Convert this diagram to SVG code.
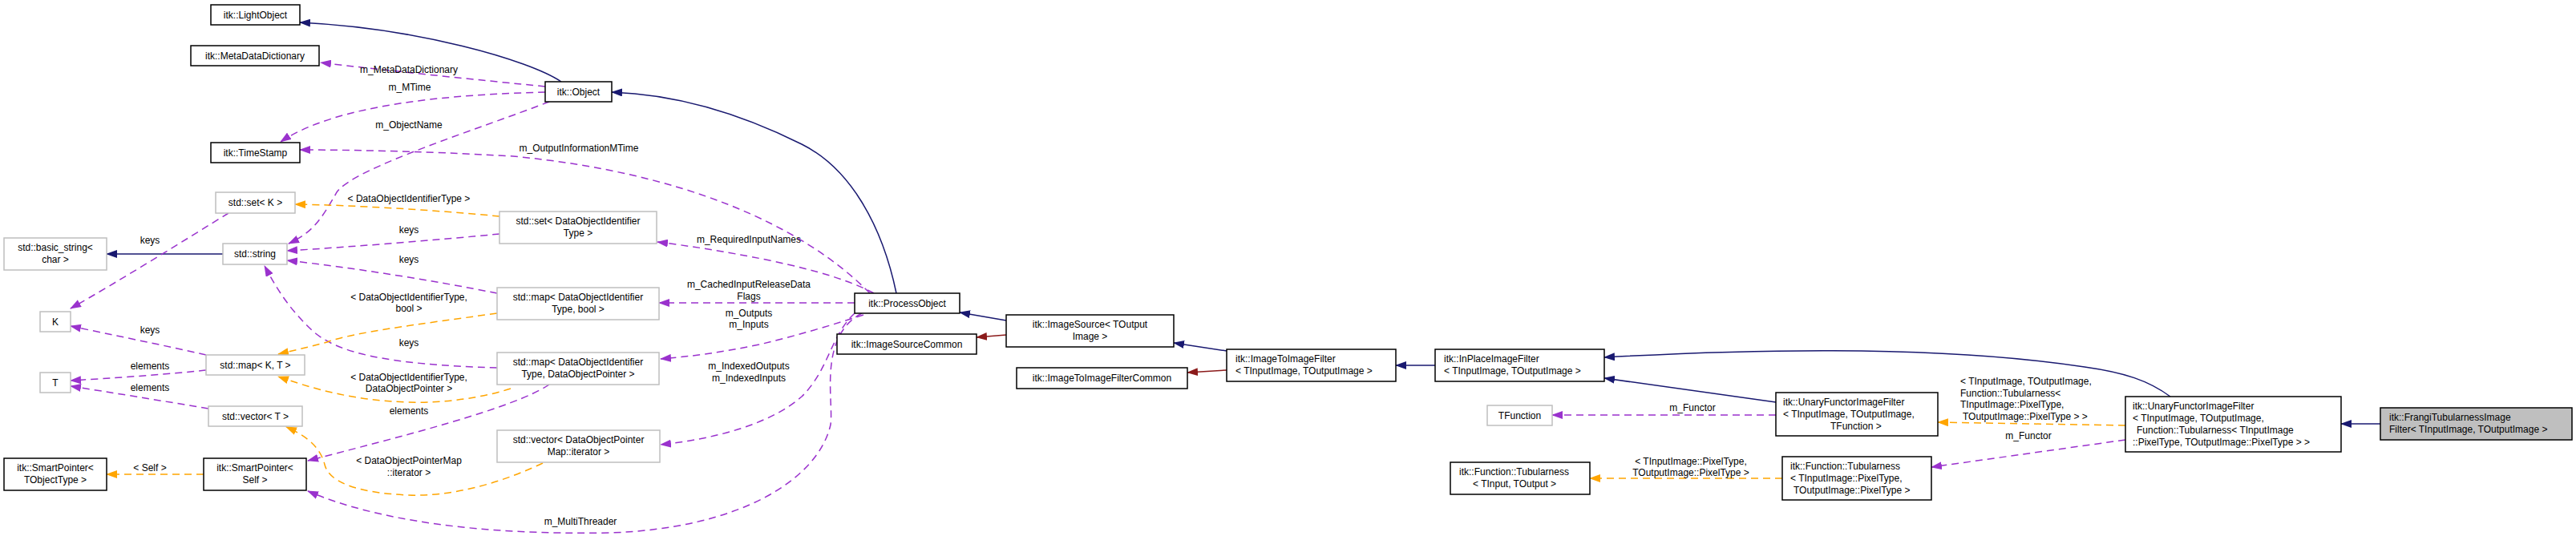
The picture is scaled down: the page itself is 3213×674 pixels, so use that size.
<svg xmlns="http://www.w3.org/2000/svg" width="3213" height="674" viewBox="0 0 3213 674">
<style>
text{font-family:"Liberation Sans",Arial,sans-serif;font-size:12px;fill:#000}
.c{text-anchor:middle}
.b{fill:#fff;stroke:#000;stroke-width:1.5}
.g{fill:#fff;stroke:#bfbfbf;stroke-width:1.5}
.f{fill:#bfbfbf;stroke:#000;stroke-width:1.5}
.inh{fill:none;stroke:#191970;stroke-width:1.5}
.red{fill:none;stroke:#8b1a1a;stroke-width:1.5}
.use{fill:none;stroke:#9a32cd;stroke-width:1.5;stroke-dasharray:9,6}
.tpl{fill:none;stroke:#ffa500;stroke-width:1.5;stroke-dasharray:9,6}
</style>
<defs>
<marker id="aN" markerWidth="14" markerHeight="10" refX="13" refY="5" orient="auto" markerUnits="userSpaceOnUse"><path d="M0,0L14,5L0,10z" fill="#191970"/></marker>
<marker id="aR" markerWidth="14" markerHeight="10" refX="13" refY="5" orient="auto" markerUnits="userSpaceOnUse"><path d="M0,0L14,5L0,10z" fill="#8b1a1a"/></marker>
<marker id="aP" markerWidth="14" markerHeight="10" refX="13" refY="5" orient="auto" markerUnits="userSpaceOnUse"><path d="M0,0L14,5L0,10z" fill="#9a32cd"/></marker>
<marker id="aO" markerWidth="14" markerHeight="10" refX="13" refY="5" orient="auto" markerUnits="userSpaceOnUse"><path d="M0,0L14,5L0,10z" fill="#ffa500"/></marker>
</defs>
<g id="edges">
<path class="inh" marker-end="url(#aN)" d="M700,102 C660,75 520,35 374,28"/>
<path class="use" marker-end="url(#aP)" d="M680,108 C600,100 480,88 400,78"/>
<text class="c" x="510" y="91">m_MetaDataDictionary</text>
<path class="use" marker-end="url(#aP)" d="M680,115 C560,118 420,130 350,177"/>
<text class="c" x="511" y="113">m_MTime</text>
<path class="use" marker-end="url(#aP)" d="M1085,366 C1000,280 850,215 640,195 C520,188 420,187 374,187"/>
<text class="c" x="722" y="189">m_OutputInformationMTime</text>
<path class="use" marker-end="url(#aP)" d="M685,127 C600,160 440,210 420,240 C400,275 390,290 360,304"/>
<text class="c" x="510" y="160">m_ObjectName</text>
<path class="tpl" marker-end="url(#aO)" d="M623,270 C540,262 440,256 368,255"/>
<text class="c" x="510" y="252">&lt; DataObjectIdentifierType &gt;</text>
<path class="use" marker-end="url(#aP)" d="M623,292 C540,300 440,308 358,313"/>
<text class="c" x="510" y="291">keys</text>
<path class="use" marker-end="url(#aP)" d="M620,366 C540,350 440,334 358,325"/>
<text class="c" x="510" y="328">keys</text>
<path class="use" marker-end="url(#aP)" d="M620,459 C480,455 420,440 390,413 C360,385 345,360 330,332"/>
<text class="c" x="510" y="432">keys</text>
<path class="inh" marker-end="url(#aN)" d="M278,317 L133,317"/>
<path class="use" marker-end="url(#aP)" d="M285,266 C230,300 150,350 88,385"/>
<text class="c" x="187" y="304">keys</text>
<path class="use" marker-end="url(#aP)" d="M257,443 C200,430 140,418 88,407"/>
<text class="c" x="187" y="416">keys</text>
<path class="use" marker-end="url(#aP)" d="M257,462 C200,468 140,472 88,475"/>
<text class="c" x="187" y="461">elements</text>
<path class="use" marker-end="url(#aP)" d="M260,510 C200,500 140,490 88,482"/>
<text class="c" x="187" y="488">elements</text>
<path class="tpl" marker-end="url(#aO)" d="M620,391 C520,405 440,415 408,427 C385,433 365,438 347,442"/>
<text class="c" x="510" y="375">&lt; DataObjectIdentifierType,</text>
<text class="c" x="510" y="389">bool &gt;</text>
<path class="tpl" marker-end="url(#aO)" d="M637,485 C590,500 540,503 510,502 C440,500 390,485 347,470"/>
<text class="c" x="510" y="475">&lt; DataObjectIdentifierType,</text>
<text class="c" x="510" y="489">DataObjectPointer &gt;</text>
<path class="use" marker-end="url(#aP)" d="M685,480 C640,510 500,545 384,575"/>
<text class="c" x="510" y="517">elements</text>
<path class="tpl" marker-end="url(#aO)" d="M677,578 C620,605 560,620 510,618 C440,615 410,600 405,580 C400,560 385,545 357,533"/>
<text class="c" x="510" y="579">&lt; DataObjectPointerMap</text>
<text class="c" x="510" y="594">::iterator &gt;</text>
<path class="tpl" marker-end="url(#aO)" d="M254,592 L133,592"/>
<text class="c" x="187" y="588">&lt; Self &gt;</text>
<path class="use" marker-end="url(#aP)" d="M1075,391 C1020,420 1040,500 1036,530 C1020,600 920,660 760,665 C600,668 470,650 384,613"/>
<text class="c" x="724" y="655">m_MultiThreader</text>
<path class="use" marker-end="url(#aP)" d="M1066,378 L822,378"/>
<text class="c" x="934" y="359">m_CachedInputReleaseData</text>
<text class="c" x="934" y="374">Flags</text>
<path class="use" marker-end="url(#aP)" d="M1077,393 C1040,405 990,420 947,430 C900,440 860,445 824,448"/>
<text class="c" x="934" y="395">m_Outputs</text>
<text class="c" x="934" y="409">m_Inputs</text>
<path class="use" marker-end="url(#aP)" d="M1066,391 C1035,420 1035,460 1000,495 C960,530 890,548 824,555"/>
<text class="c" x="934" y="461">m_IndexedOutputs</text>
<text class="c" x="934" y="476">m_IndexedInputs</text>
<path class="use" marker-end="url(#aP)" d="M1090,366 C1060,350 1020,338 960,325 C900,313 860,307 820,302"/>
<text class="c" x="934" y="303">m_RequiredInputNames</text>
<path class="inh" marker-end="url(#aN)" d="M1118,366 C1100,280 1060,210 1000,180 C930,145 850,118 763,115"/>
<path class="inh" marker-end="url(#aN)" d="M1255,400 L1197,390"/>
<path class="red" marker-end="url(#aR)" d="M1255,418 L1218,421"/>
<path class="inh" marker-end="url(#aN)" d="M1530,438 L1464,428"/>
<path class="red" marker-end="url(#aR)" d="M1530,462 L1481,465"/>
<path class="inh" marker-end="url(#aN)" d="M1790,456 L1741,456"/>
<path class="inh" marker-end="url(#aN)" d="M2215,502 L2001,472"/>
<path class="use" marker-end="url(#aP)" d="M2215,518 L1936,518"/>
<text class="c" x="2111" y="513">m_Functor</text>
<path class="inh" marker-end="url(#aN)" d="M2707,495 C2680,475 2650,465 2600,458 C2450,435 2250,432 2001,446"/>
<path class="tpl" marker-end="url(#aO)" d="M2651,531 L2417,527"/>
<text x="2445" y="480">&lt; TInputImage, TOutputImage,</text>
<text x="2445" y="495">Function::Tubularness&lt;</text>
<text x="2445" y="509">TInputImage::PixelType,</text>
<text x="2448" y="524">TOutputImage::PixelType &gt; &gt;</text>
<path class="use" marker-end="url(#aP)" d="M2651,549 L2409,583"/>
<text class="c" x="2530" y="548">m_Functor</text>
<path class="tpl" marker-end="url(#aO)" d="M2223,597 L1983,597"/>
<text class="c" x="2109" y="580">&lt; TInputImage::PixelType,</text>
<text class="c" x="2109" y="594">TOutputImage::PixelType &gt;</text>
<path class="inh" marker-end="url(#aN)" d="M2969,529 L2920,529"/>
</g>
<g id="LightObject"><rect class="b" x="263" y="6" width="111" height="25"/><text class="c" x="318.5" y="23">itk::LightObject</text></g>
<g id="MetaDataDictionary"><rect class="b" x="238" y="57" width="160" height="25"/><text class="c" x="318" y="74">itk::MetaDataDictionary</text></g>
<g id="TimeStamp"><rect class="b" x="263" y="178" width="111" height="25"/><text class="c" x="318.5" y="195">itk::TimeStamp</text></g>
<g id="setK"><rect class="g" x="269" y="240" width="99" height="26"/><text class="c" x="318.5" y="257">std::set&lt; K &gt;</text></g>
<g id="basicString"><rect class="g" x="5" y="297" width="128" height="40"/><text class="c" x="69" y="313">std::basic_string&lt;</text><text class="c" x="69" y="328">char &gt;</text></g>
<g id="stdString"><rect class="g" x="278" y="304" width="80" height="26"/><text class="c" x="318" y="321">std::string</text></g>
<g id="K"><rect class="g" x="50" y="389" width="38" height="25"/><text class="c" x="69" y="406">K</text></g>
<g id="T"><rect class="g" x="50" y="465" width="38" height="25"/><text class="c" x="69" y="482">T</text></g>
<g id="mapKT"><rect class="g" x="257" y="443" width="123" height="25"/><text class="c" x="318.5" y="460">std::map&lt; K, T &gt;</text></g>
<g id="vectorT"><rect class="g" x="260" y="507" width="117" height="25"/><text class="c" x="318.5" y="524">std::vector&lt; T &gt;</text></g>
<g id="SmartPointerT"><rect class="b" x="5" y="572" width="128" height="40"/><text class="c" x="69" y="588">itk::SmartPointer&lt;</text><text class="c" x="69" y="603">TObjectType &gt;</text></g>
<g id="SmartPointerSelf"><rect class="b" x="254" y="572" width="128" height="40"/><text class="c" x="318" y="588">itk::SmartPointer&lt;</text><text class="c" x="318" y="603">Self &gt;</text></g>
<g id="Object"><rect class="b" x="680" y="102" width="83" height="25"/><text class="c" x="721.5" y="119">itk::Object</text></g>
<g id="setDOIT"><rect class="g" x="623" y="264" width="196" height="40"/><text class="c" x="721" y="280">std::set&lt; DataObjectIdentifier</text><text class="c" x="721" y="295">Type &gt;</text></g>
<g id="mapBool"><rect class="g" x="620" y="359" width="202" height="40"/><text class="c" x="721" y="375">std::map&lt; DataObjectIdentifier</text><text class="c" x="721" y="390">Type, bool &gt;</text></g>
<g id="mapDOP"><rect class="g" x="620" y="440" width="202" height="40"/><text class="c" x="721" y="456">std::map&lt; DataObjectIdentifier</text><text class="c" x="721" y="471">Type, DataObjectPointer &gt;</text></g>
<g id="vectorIter"><rect class="g" x="620" y="537" width="203" height="40"/><text class="c" x="721.5" y="553">std::vector&lt; DataObjectPointer</text><text class="c" x="721.5" y="568">Map::iterator &gt;</text></g>
<g id="ProcessObject"><rect class="b" x="1066" y="366" width="131" height="25"/><text class="c" x="1131.5" y="383">itk::ProcessObject</text></g>
<g id="ImageSourceCommon"><rect class="b" x="1044" y="417" width="174" height="25"/><text class="c" x="1131" y="434">itk::ImageSourceCommon</text></g>
<g id="ImageSource"><rect class="b" x="1255" y="393" width="209" height="40"/><text class="c" x="1359.5" y="409">itk::ImageSource&lt; TOutput</text><text class="c" x="1359.5" y="424">Image &gt;</text></g>
<g id="ITIFCommon"><rect class="b" x="1268" y="459" width="213" height="26"/><text class="c" x="1374.5" y="476">itk::ImageToImageFilterCommon</text></g>
<g id="ITIF"><rect class="b" x="1530" y="436" width="211" height="40"/><text x="1541" y="452">itk::ImageToImageFilter</text><text x="1541" y="467">&lt; TInputImage, TOutputImage &gt;</text></g>
<g id="InPlace"><rect class="b" x="1790" y="436" width="211" height="40"/><text x="1801" y="452">itk::InPlaceImageFilter</text><text x="1801" y="467">&lt; TInputImage, TOutputImage &gt;</text></g>
<g id="TFunction"><rect class="g" x="1855" y="506" width="81" height="25"/><text class="c" x="1895.5" y="523">TFunction</text></g>
<g id="TubularnessGeneric"><rect class="b" x="1809" y="577" width="174" height="40"/><text x="1820" y="593">itk::Function::Tubularness</text><text x="1837" y="608">&lt; TInput, TOutput &gt;</text></g>
<g id="UFTFunction"><rect class="b" x="2215" y="490" width="202" height="54"/><text x="2224" y="506">itk::UnaryFunctorImageFilter</text><text x="2224" y="521">&lt; TInputImage, TOutputImage,</text><text x="2283" y="536">TFunction &gt;</text></g>
<g id="TubularnessPixel"><rect class="b" x="2223" y="570" width="186" height="54"/><text x="2233" y="586">itk::Function::Tubularness</text><text x="2233" y="601">&lt; TInputImage::PixelType,</text><text x="2237" y="616">TOutputImage::PixelType &gt;</text></g>
<g id="UFTubularness"><rect class="b" x="2651" y="495" width="269" height="69"/><text x="2660" y="511">itk::UnaryFunctorImageFilter</text><text x="2660" y="526">&lt; TInputImage, TOutputImage,</text><text x="2665" y="541">Function::Tubularness&lt; TInputImage</text><text x="2660" y="556">::PixelType, TOutputImage::PixelType &gt; &gt;</text></g>
<g id="Frangi"><rect class="f" x="2969" y="509" width="239" height="40"/><text x="2980" y="525">itk::FrangiTubularnessImage</text><text x="2980" y="540">Filter&lt; TInputImage, TOutputImage &gt;</text></g>
</svg>
